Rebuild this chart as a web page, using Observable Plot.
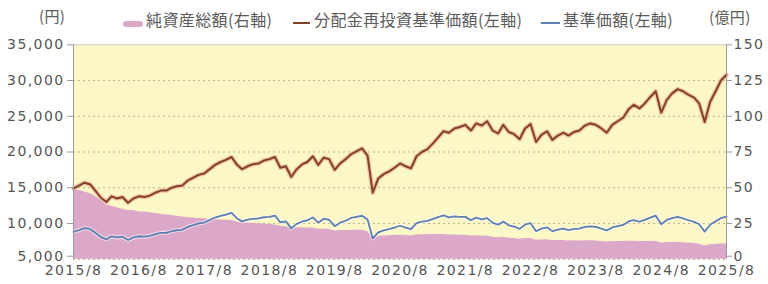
<!DOCTYPE html>
<html>
<head>
<meta charset="utf-8">
<script src="https://cdn.jsdelivr.net/npm/d3@7"></script>
<script src="https://cdn.jsdelivr.net/npm/@observablehq/plot@0.6"></script>
<style>
  html, body { margin: 0; padding: 0; background: #ffffff; }
  #wrap { position: relative; width: 768px; height: 284px; overflow: hidden; }
  #head { position: relative; height: 30px; font-family: "Noto Sans CJK JP", sans-serif; font-size: 16px; color: #5a5a5a; letter-spacing: 0.4px; }
  #head .t { position: absolute; top: 11px; white-space: nowrap; line-height: 1; }
  #head .sw { position: absolute; }
  #chart svg { display: block; }
</style>
</head>
<body>
<div id="wrap">
  <div id="head"></div>
  <div id="chart"></div>
</div>
<script>
// ---- data ----
const startMonth = "2015-08-01";
const endMonth = "2025-08-01";

// 分配金再投資基準価額 (円), monthly from 2015/8 to 2025/8
const reinvestNav = [
  14900,15300,15700,15500,14600,13600,13000,13800,13500,13700,12900,13500,
  13800,13700,13900,14300,14600,14600,15000,15200,15300,16000,16400,16800,
  17000,17600,18200,18600,18900,19300,18200,17600,18000,18300,18400,18800,
  19000,19300,17800,18000,16500,17600,18300,18600,19400,18200,19200,19000,
  17500,18400,19000,19700,20100,20500,19500,14300,16300,16900,17300,17800,
  18400,18000,17700,19400,20000,20400,21200,22000,22900,22700,23300,23500,
  23800,23000,24000,23700,24300,23000,22600,23800,22800,22500,21800,23300,
  23900,21400,22400,22900,21700,22300,22700,22300,22800,23000,23700,24000,
  23800,23300,22700,23800,24300,24800,26000,26600,26100,26800,27700,28500,
  25500,27300,28200,28800,28500,28000,27600,26800,24200,27000,28500,30000,
  30800
];

// 基準価額 (円)
const nav = [
  8820,9050,9350,9230,8690,8100,7780,8210,8040,8150,7680,8040,
  8210,8150,8270,8510,8690,8690,8930,9050,9110,9520,9760,10000,
  10120,10480,10830,11070,11250,11490,10700,10290,10530,10640,10700,10870,
  10920,11090,10170,10290,9320,9940,10280,10450,10840,10110,10670,10500,
  9620,10110,10380,10770,10920,11080,10540,7900,8760,9040,9200,9420,
  9680,9420,9220,10050,10260,10360,10650,10890,11120,10860,10990,10930,
  10920,10450,10810,10580,10750,10090,9830,10260,9740,9570,9240,9830,
  10040,8920,9290,9460,8930,9140,9270,9070,9230,9270,9520,9600,
  9520,9280,9040,9440,9640,9800,10280,10470,10240,10510,10820,11090,
  9880,10500,10760,10910,10710,10450,10220,9890,8860,9820,10290,10750,
  10960
];

// 純資産総額 (億円)
const netAssets = [
  49,48,47,46,44,41,38,37,36,35,34,34,
  33,33,32.5,32,31.5,31,30.5,30,29.5,29,28.8,28.5,
  28.3,28,27.8,27.5,27.3,27,26,25.5,25.3,25,24.8,24.5,
  24.3,24,23,22.7,21.5,22,22,21.8,21.8,21,21.2,20.8,
  19.8,20,20,20.2,20.2,20.3,19.3,14.8,15.8,16.2,16.4,16.6,
  16.8,16.5,16.3,17,17.1,17.1,17.2,17.2,17.3,17,17,16.8,
  16.7,16.2,16.4,16.1,16.2,15.3,15,15.3,14.7,14.5,14,14.4,
  14.5,13.2,13.5,13.6,13,13.1,13.1,12.8,12.9,12.8,12.9,12.9,
  12.7,12.4,12,12.3,12.4,12.3,12.6,12.6,12.3,12.3,12.4,12.5,
  11.2,11.7,11.7,11.8,11.5,11.2,10.9,10.5,9.3,10.1,10.3,10.6,
  10.6
];

const leftTicks = [5000,10000,15000,20000,25000,30000,35000];
const rightTicks = [0,25,50,75,100,125,150];
const xTickLabels = ["2015/8","2016/8","2017/8","2018/8","2019/8","2020/8","2021/8","2022/8","2023/8","2024/8","2025/8"];
const legendLabels = ["純資産総額(右軸)","分配金再投資基準価額(左軸)","基準価額(左軸)"];
const leftUnit = "(円)";
const rightUnit = "(億円)";

// ---- build table ----
const t0 = new Date(startMonth + "T00:00:00Z");
const t1 = new Date(endMonth + "T00:00:00Z");
const months = d3.utcMonth.range(t0, d3.utcMonth.offset(t1, 1));
const rows = months.map((date, i) => ({date, reinvest: reinvestNav[i], nav: nav[i], assets: netAssets[i]}));
const xTicks = xTickLabels.map(s => { const [y, m] = s.split("/"); return new Date(Date.UTC(+y, +m - 1, 1)); });

// right axis (億円) expressed on the left scale: 0 → 5,000, 150 → 35,000
const r2l = v => 5000 + v * 200;

const C = {
  bg: "#fcf7c7",
  area: "#dca8c9",
  brown: "#83402a",
  brownHalo: "#eab39c",
  blue: "#5d7eae",
  grid: "#b8b48c",
  axis: "#9a9a9a",
  text: "#555555"
};

// ---- header (units + legend) ----
const head = document.getElementById("head");
function addText(txt, left, extra) {
  const s = document.createElement("span");
  s.className = "t"; s.textContent = txt; s.style.left = left + "px";
  if (extra) Object.assign(s.style, extra);
  head.appendChild(s);
}
function addSwatch(left, top, w, h, color, radius) {
  const d = document.createElement("div");
  d.className = "sw";
  Object.assign(d.style, {left: left + "px", top: top + "px", width: w + "px", height: h + "px", background: color, borderRadius: (radius || 0) + "px"});
  head.appendChild(d);
}
addText(leftUnit, 39, {top: "8px", fontSize: "15px"});
addSwatch(123, 21, 20, 6, C.area, 3);
addText(legendLabels[0], 146);
addSwatch(293, 22, 17, 2, C.brown);
addText(legendLabels[1], 314);
addSwatch(541, 22, 19, 2, C.blue);
addText(legendLabels[2], 563);
addText(rightUnit, 709, {top: "9px", fontSize: "15px"});

// ---- chart ----
const axisCommon = {stroke: C.axis, fill: C.text};
const chart = Plot.plot({
  width: 768,
  height: 254,
  marginLeft: 73,
  marginRight: 42,
  marginTop: 14.3,
  marginBottom: 25.3,
  x: {type: "utc", domain: [t0, t1]},
  y: {domain: [5000, 35000]},
  style: {fontFamily: "DejaVu Sans, sans-serif", fontSize: "14px", color: C.text, background: "transparent", overflow: "visible", letterSpacing: "1.4px"},
  marks: [
    Plot.frame({fill: C.bg, stroke: null}),
    Plot.gridY(leftTicks.filter(v => v > 5000 && v < 35000), {stroke: C.grid, strokeOpacity: 1, strokeDasharray: "2,3"}),
    Plot.areaY(rows, {x: "date", y1: 5000, y2: d => r2l(d.assets), fill: C.area}),
    Plot.ruleY([5000], {stroke: "#a8a0a0", strokeDasharray: "2,3"}),
    Plot.lineY(rows, {x: "date", y: "reinvest", stroke: C.brownHalo, strokeWidth: 4.5, strokeOpacity: 0.75}),
    Plot.lineY(rows, {x: "date", y: "reinvest", stroke: C.brown, strokeWidth: 2}),
    Plot.lineY(rows, {x: "date", y: "nav", stroke: "#ffffff", strokeWidth: 4, strokeOpacity: 0.55}),
    Plot.lineY(rows, {x: "date", y: "nav", stroke: C.blue, strokeWidth: 1.8}),
    Plot.ruleY([35000], {stroke: "#cfcab0"}),
    Plot.ruleX([t0, t1], {stroke: C.axis}),
    // left axis (円)
    Plot.axisY(leftTicks.slice(1), {anchor: "left", tickFormat: d3.format(","), tickSize: 6, tickPadding: 3, ...axisCommon}),
    Plot.axisY(leftTicks.slice(0, 1), {anchor: "left", tickFormat: d3.format(","), tickSize: 6, tickPadding: 3, dy: -3, ...axisCommon}),
    // right axis (億円)
    Plot.axisY(rightTicks.slice(1), {anchor: "right", y: d => r2l(d), text: d => String(d), tickSize: 5, tickPadding: 2, ...axisCommon}),
    Plot.axisY(rightTicks.slice(0, 1), {anchor: "right", y: d => r2l(d), text: d => String(d), tickSize: 5, tickPadding: 2, dy: -3, ...axisCommon}),
    // x axis
    Plot.axisX(xTicks, {anchor: "bottom", text: (d, i) => xTickLabels[i], tickSize: 0, tickPadding: 6, fill: C.text})
  ]
});
document.getElementById("chart").appendChild(chart);
</script>
</body>
</html>
